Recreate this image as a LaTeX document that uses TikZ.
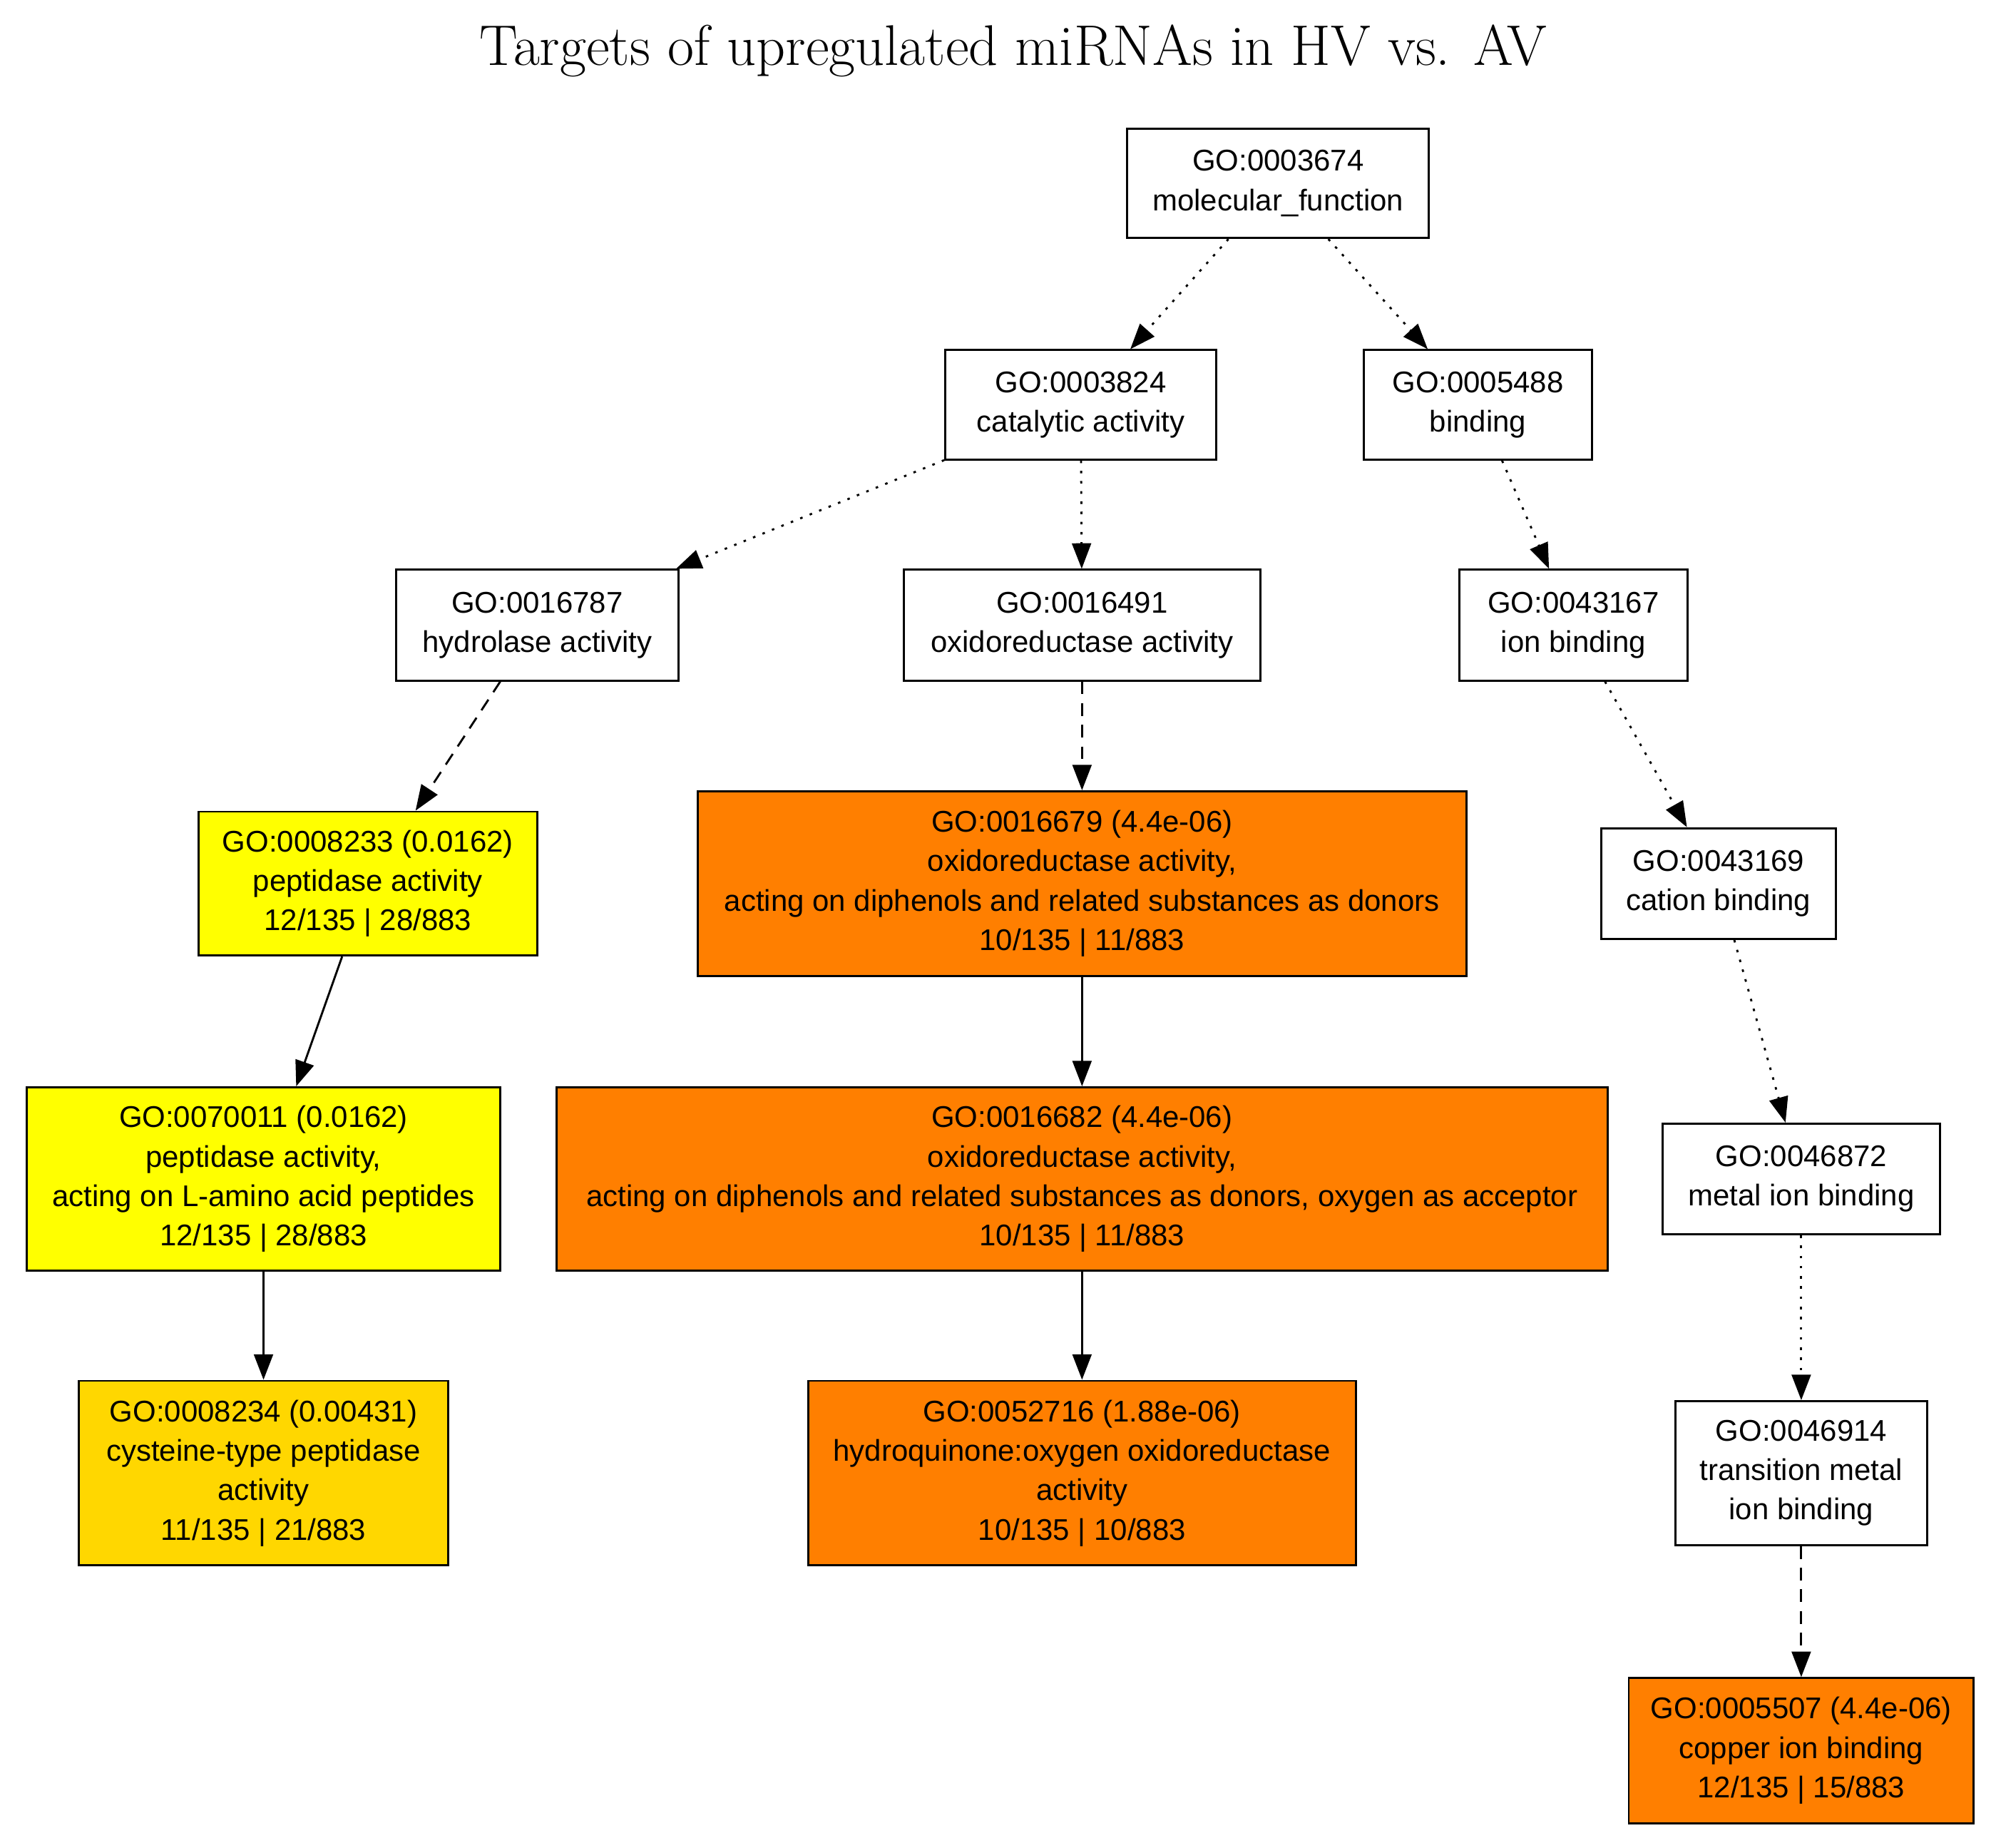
\documentclass[tikz,border=0pt]{standalone}
\usepackage{fontspec}
\setmainfont{Liberation Sans}
\usetikzlibrary{arrows.meta}
\definecolor{gy}{HTML}{FFFF00}
\definecolor{gg}{HTML}{FFD700}
\definecolor{go}{HTML}{FF7F00}
\begin{document}
\begin{tikzpicture}[x=1pt,y=-1pt,
 box/.style={draw,line width=1.6pt,align=center,inner sep=0pt,font=\fontsize{23.5}{31}\selectfont},
 e/.style={line width=1.6pt,-{Triangle[length=20pt,width=15pt]}},
 dot/.style={e,dash pattern=on 2pt off 6pt},
 dsh/.style={e,dash pattern=on 10pt off 7pt}]
\useasboundingbox (0,0) rectangle (1568,1451);
\node[font=\fontsize{45}{47}\selectfont,text=black] (title) at (796,40) {\fontspec{Latin Modern Roman}Targets of upregulated miRNAs in HV vs. AV};
\newcommand\bx[7]{\node[box,fill=#7,minimum width=#4pt,minimum height=#5pt] (#1) at (#2,#3) {#6};}
\bx{a}{1004}{144}{237}{86}{GO:0003674\\molecular\_function}{white}
\bx{b}{849}{318}{213}{86}{GO:0003824\\catalytic activity}{white}
\bx{c}{1161}{318}{179}{86}{GO:0005488\\binding}{white}
\bx{d}{422}{491}{222}{87}{GO:0016787\\hydrolase activity}{white}
\bx{f}{850}{491}{280}{87}{GO:0016491\\oxidoreductase activity}{white}
\bx{g}{1236}{491}{179}{87}{GO:0043167\\ion binding}{white}
\bx{h}{289}{694}{266}{113}{GO:0008233 (0.0162)\\peptidase activity\\12/135 | 28/883}{gy}
\bx{i}{850}{694}{604}{145}{GO:0016679 (4.4e-06)\\oxidoreductase activity,\\acting on diphenols and related substances as donors\\10/135 | 11/883}{go}
\bx{j}{1350}{694}{184}{87}{GO:0043169\\cation binding}{white}
\bx{k}{207}{926}{372}{144}{GO:0070011 (0.0162)\\peptidase activity,\\acting on L-amino acid peptides\\12/135 | 28/883}{gy}
\bx{l}{850}{926}{826}{144}{GO:0016682 (4.4e-06)\\oxidoreductase activity,\\acting on diphenols and related substances as donors, oxygen as acceptor\\10/135 | 11/883}{go}
\bx{m}{1415}{926}{218}{87}{GO:0046872\\metal ion binding}{white}
\bx{n}{207}{1157}{290}{145}{GO:0008234 (0.00431)\\cysteine-type peptidase\\activity\\11/135 | 21/883}{gg}
\bx{o}{850}{1157}{430}{145}{GO:0052716 (1.88e-06)\\hydroquinone:oxygen oxidoreductase\\activity\\10/135 | 10/883}{go}
\bx{p}{1415}{1157}{198}{113}{GO:0046914\\transition metal\\ion binding}{white}
\bx{q}{1415}{1375}{271}{114}{GO:0005507 (4.4e-06)\\copper ion binding\\12/135 | 15/883}{go}
\draw[dot] (a) -- (b);
\draw[dot] (a) -- (c);
\draw[dot] (b) -- (d);
\draw[dot] (b) -- (f);
\draw[dot] (c) -- (g);
\draw[dot] (g) -- (j);
\draw[dot] (j) -- (m);
\draw[dot] (m) -- (p);
\draw[dsh] (d) -- (h);
\draw[dsh] (f) -- (i);
\draw[dsh] (p) -- (q);
\draw[e] (h) -- (k);
\draw[e] (i) -- (l);
\draw[e] (k) -- (n);
\draw[e] (l) -- (o);
\end{tikzpicture}
\end{document}
